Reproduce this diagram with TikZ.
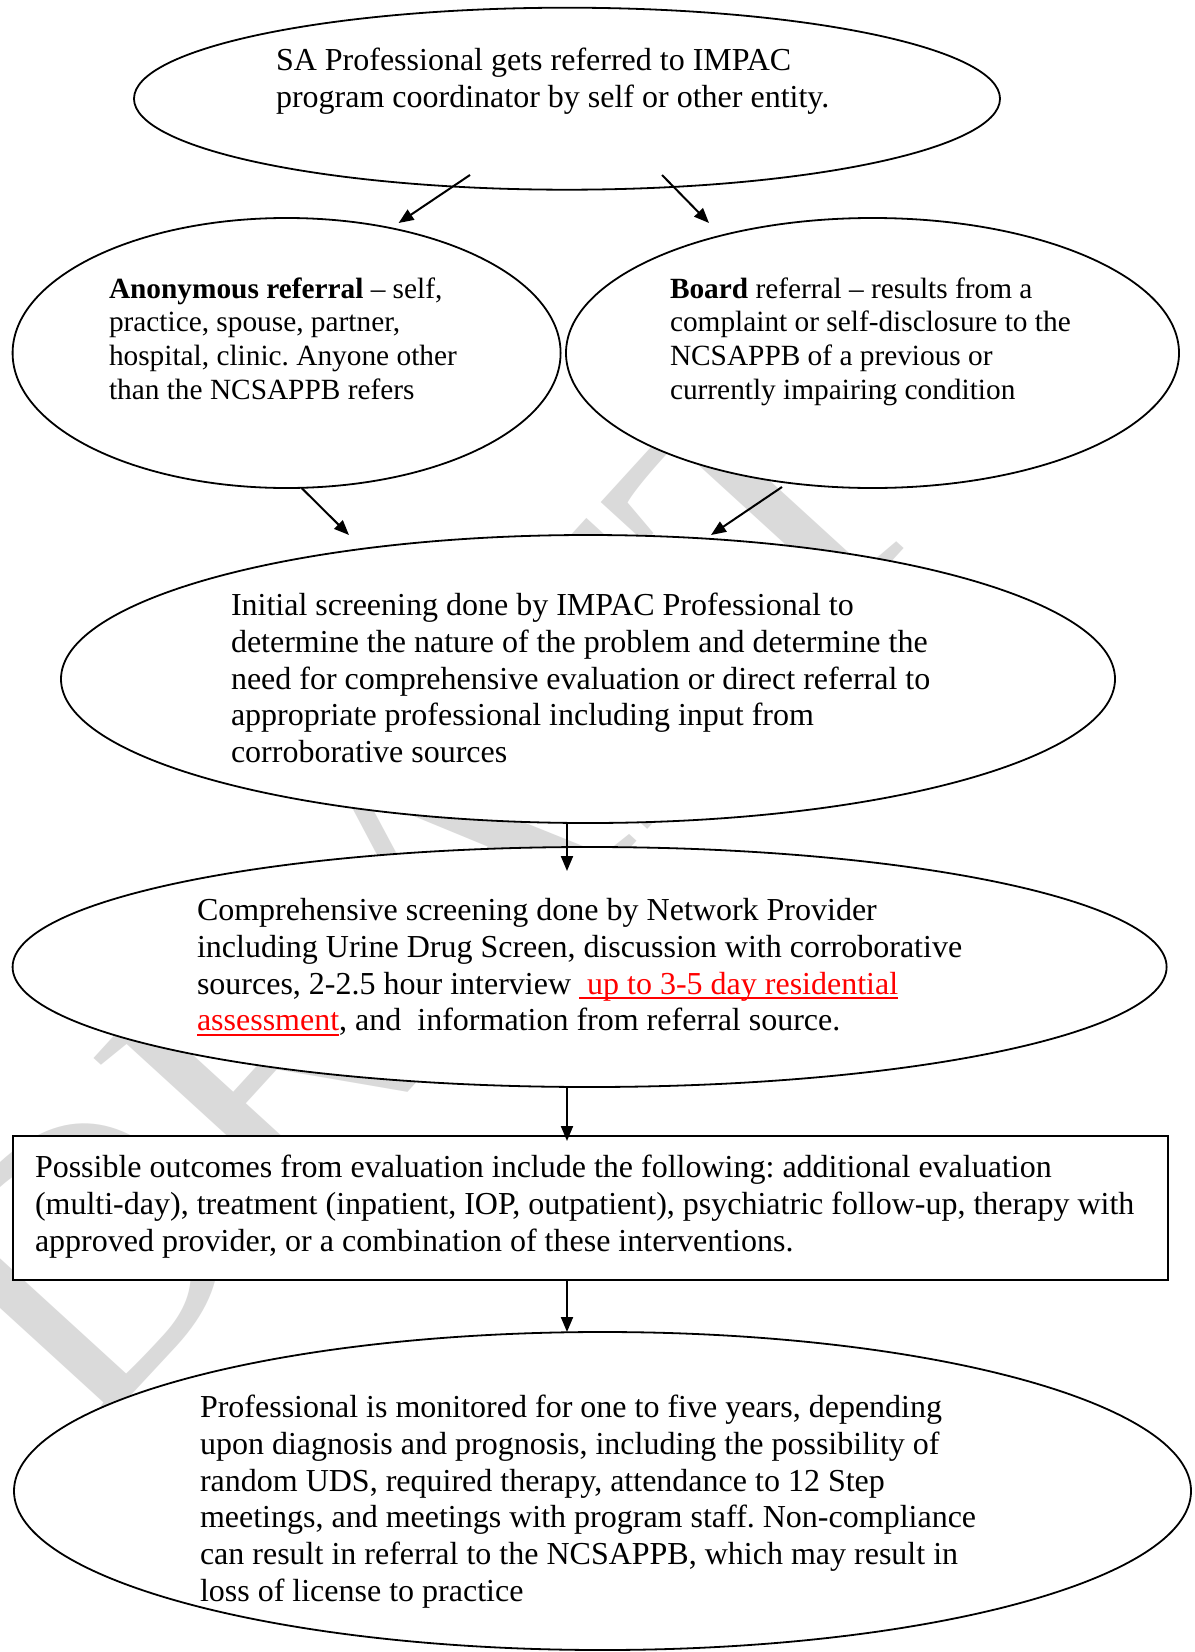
\documentclass[tikz,border=0pt]{standalone}
\usepackage{fontspec}
\setmainfont{Liberation Serif}
\usetikzlibrary{shapes.geometric,arrows.meta,calc}
\definecolor{wmgray}{RGB}{218,218,218}
\newcommand\ulred[1]{{\color{red}\setbox0\hbox{#1}\rlap{\rule[-4.7bp]{\wd0}{2bp}}\box0}}
\newcommand\twelve{\fontsize{32bp}{36.8bp}\selectfont}
\newcommand\eleven{\fontsize{29.33bp}{33.7bp}\selectfont}
\frenchspacing
\tikzset{
  oval/.style={ellipse, draw=black, line width=1.8bp, fill=white, inner sep=0pt, outer sep=0pt},
  boxnode/.style={rectangle, draw=black, line width=1.8bp, fill=white, inner sep=0pt, outer sep=0pt},
  txt/.style={inner sep=0pt, outer sep=0pt, anchor=base west, text=black},
  arr/.style={line width=2bp, -{Triangle[length=15bp,width=12bp]}},
  wm/.style={inner sep=0pt, text=wmgray, font=\fontsize{389bp}{420bp}\selectfont}
}
\begin{document}
\begin{tikzpicture}[x=1bp,y=-1bp]
\useasboundingbox (0,0) rectangle (1194,1652);
\clip (0,0) rectangle (1194,1652);
\fill[white] (0,0) rectangle (1194,1652);
% watermark
\node[wm, rotate=47.6, anchor=base west] (wmark) at (84.9,1446.1) {DRAFT};
% shapes
\node[oval, minimum width=866bp, minimum height=182bp] (e1) at (567,98.7) {};
\node[oval, minimum width=548bp, minimum height=270bp] (e2) at (286.6,353) {};
\node[oval, minimum width=613bp, minimum height=270bp] (e3) at (872.5,353) {};
\node[oval, minimum width=1054bp, minimum height=288bp] (e4) at (588,679) {};
\node[oval, minimum width=1154bp, minimum height=240bp] (e5) at (589.6,967) {};
\node[boxnode, minimum width=1155bp, minimum height=144bp] (r1) at (590.5,1208) {};
\node[oval, minimum width=1177bp, minimum height=318bp] (e6) at (602.5,1491) {};
% texts
\node[txt] (t1) at (276,71) {\twelve\begin{tabular}[t]{@{}l@{}}SA Professional gets referred to IMPAC\\program coordinator by self or other entity.\end{tabular}};
\node[txt] (t2) at (109,298) {\eleven\begin{tabular}[t]{@{}l@{}}\textbf{Anonymous referral} – self,\\practice, spouse, partner,\\hospital, clinic. Anyone other\\than the NCSAPPB refers\end{tabular}};
\node[txt] (t3) at (670,298) {\eleven\begin{tabular}[t]{@{}l@{}}\textbf{Board} referral – results from a\\complaint or self-disclosure to the\\NCSAPPB of a previous or\\currently impairing condition\end{tabular}};
\node[txt] (t4) at (231,615.5) {\twelve\begin{tabular}[t]{@{}l@{}}Initial screening done by IMPAC Professional to\\determine the nature of the problem and determine the\\need for comprehensive evaluation or direct referral to\\appropriate professional including input from\\corroborative sources\end{tabular}};
\node[txt] (t5) at (197,920.5) {\twelve\begin{tabular}[t]{@{}l@{}}Comprehensive screening done by Network Provider\\including Urine Drug Screen, discussion with corroborative\\sources, 2-2.5 hour interview\ \ulred{\ up to 3-5 day residential}\\\ulred{assessment}, and~ information from referral source.\end{tabular}};
\node[txt] (t6) at (35,1177.5) {\twelve\begin{tabular}[t]{@{}l@{}}Possible outcomes from evaluation include the following: additional evaluation\\(multi-day), treatment (inpatient, IOP, outpatient), psychiatric follow-up, therapy with\\approved provider, or a combination of these interventions.\end{tabular}};
\node[txt] (t7) at (200,1417.5) {\twelve\begin{tabular}[t]{@{}l@{}}Professional is monitored for one to five years, depending\\upon diagnosis and prognosis, including the possibility of\\random UDS, required therapy, attendance to 12 Step\\meetings, and meetings with program staff. Non-compliance\\can result in referral to the NCSAPPB, which may result in\\loss of license to practice\end{tabular}};
% connectors
\draw[arr] ($(e1.center)+(-97,76.3)$) -- ($(e2.center)+(112,-130)$);
\draw[arr] ($(e1.center)+(95,76.3)$) -- ($(e3.center)+(-163.5,-130)$);
\draw[arr] ($(e2.center)+(15,135)$) -- ($(e4.center)+(-239,-144)$);
\draw[arr] ($(e3.center)+(-90.5,134)$) -- ($(e4.center)+(123,-144)$);
\draw[arr] ($(e4.center)+(-21,144)$) -- ($(e5.center)+(-22.6,-96)$);
\draw[arr] ($(e5.center)+(-22.6,120)$) -- ($(r1.center)+(-23.5,-67)$);
\draw[arr] ($(r1.center)+(-23.5,72)$) -- ($(e6.center)+(-35.5,-159)$);
\end{tikzpicture}
\end{document}
